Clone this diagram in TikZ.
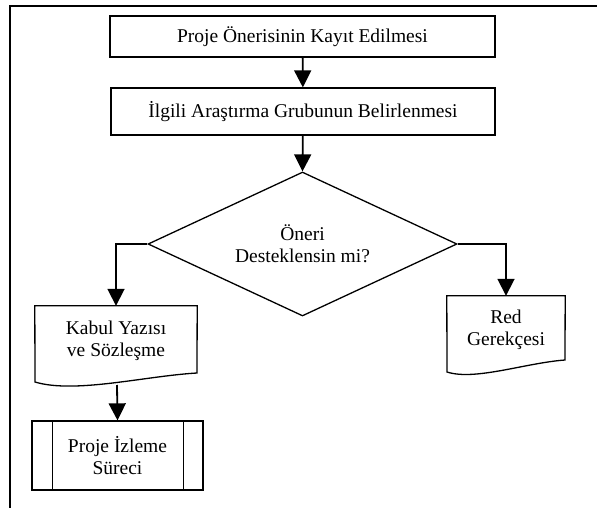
\documentclass[tikz,border=0pt]{standalone}
\usepackage{fontspec}
\setmainfont{Liberation Serif}
\usetikzlibrary{arrows.meta}
\usetikzlibrary{shapes.geometric}

\tikzset{
    flowbox/.style = {draw, line width = 1.3pt, inner sep = 0, align = center},
    doctext/.style = {inner sep = 0, align = center},
    flowarrow/.style = {line width = 1.8pt, -{Triangle[width = 17pt, length = 17pt]}},
    outline/.style = {line width = 1.3pt}
}

\begin{document}
\begin{tikzpicture}[x = 1pt, y = -1pt]
    \fontsize{19.5}{22}\selectfont
    \useasboundingbox (0, 0) rectangle (597, 508);

    %% frame
    \draw[line width = 2pt] (10, 508) -- (10, 6) -- (597, 6);

    %% boxes
    \node[flowbox, minimum width = 385, minimum height = 41] (kayit) at (302.5, 36.5)
        {Proje Önerisinin Kayıt Edilmesi};
    \node[flowbox, minimum width = 384, minimum height = 47] (grup) at (303, 111.5)
        {İlgili Araştırma Grubunun Belirlenmesi};
    \node[flowbox, diamond, aspect = 2.15, minimum width = 309, minimum height = 144]
        (karar) at (302.5, 244) {Öneri\\Desteklensin mi?};

    %% documents
    \node[doctext, minimum width = 162, minimum height = 70] (kabul) at (116, 341)
        {Kabul Yazısı\\ve Sözleşme};
    \draw[outline] (35, 382) -- (kabul.north west) -- (kabul.north east) -- (197, 373)
        .. controls (145, 376) and (75, 394) .. cycle;
    \coordinate (kabul-alt) at (117, 385);

    \node[doctext, minimum width = 118, minimum height = 68] (red) at (506, 330)
        {Red\\Gerekçesi};
    \draw[outline] (447, 372) -- (red.north west) -- (red.north east) -- (565, 360)
        .. controls (525, 363) and (475, 381) .. cycle;

    %% predefined process
    \node[flowbox, minimum width = 171, minimum height = 69] (izleme) at (117.5, 455.5)
        {Proje İzleme\\Süreci};
    \draw[outline] ([xshift = 21]izleme.north west) -- ([xshift = 21]izleme.south west);
    \draw[outline] ([xshift = -20]izleme.north east) -- ([xshift = -20]izleme.south east);

    %% connectors
    \draw[flowarrow] (kayit) -- (grup);
    \draw[flowarrow] (grup) -- (karar.north);
    \draw[flowarrow] (karar.west) -| (kabul.north);
    \draw[flowarrow] (karar.east) -| (red.north);
    \draw[flowarrow] (kabul-alt) -- (izleme.north);
\end{tikzpicture}
\end{document}
